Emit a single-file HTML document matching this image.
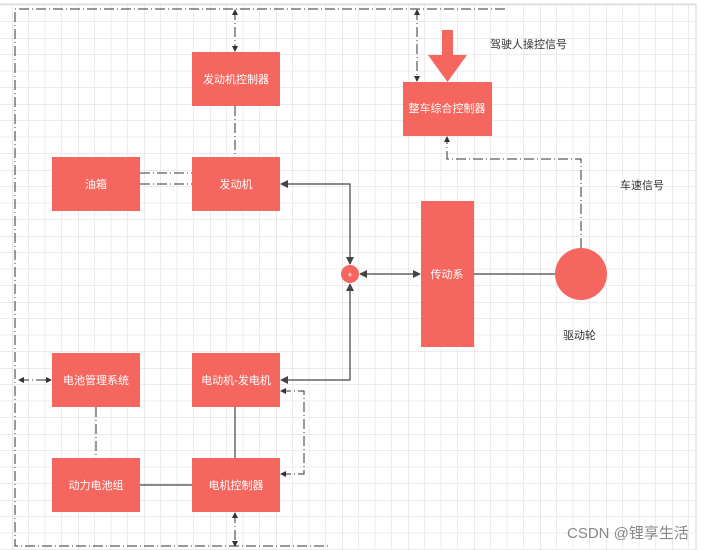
<!DOCTYPE html>
<html><head><meta charset="utf-8"><style>
body{margin:0;background:#fff}
svg{display:block}
text{font-family:"Liberation Sans","Noto Sans CJK SC",sans-serif;font-size:11px}
.w{fill:#fff;text-anchor:middle;dominant-baseline:central}
.k{fill:#333}
</style></head><body>
<svg width="723" height="550" xmlns="http://www.w3.org/2000/svg">
<defs>
<pattern id="g" x="12" y="38" width="66" height="66" patternUnits="userSpaceOnUse">
<path d="M16.5 0V66M33 0V66M49.5 0V66M0 16.5H66M0 33H66M0 49.5H66" stroke="#ececec" stroke-width="1" fill="none"/>
<path d="M0 0V66M0 0H66" stroke="#d6d6d6" stroke-width="1" fill="none"/>
</pattern>
<marker id="a" markerWidth="8" markerHeight="8" refX="7" refY="4" orient="auto-start-reverse" markerUnits="userSpaceOnUse"><path d="M0 0L8 4L0 8Z" fill="#444"/></marker>
<marker id="s" markerWidth="6" markerHeight="6" refX="5" refY="3" orient="auto-start-reverse" markerUnits="userSpaceOnUse"><path d="M0 0L6 3L0 6Z" fill="#333"/></marker>
</defs>
<rect x="0" y="4" width="696" height="546" fill="url(#g)"/>
<line x1="696" y1="4" x2="696" y2="550" stroke="#d6d6d6"/>
<line x1="0" y1="4" x2="696" y2="4" stroke="#d6d6d6"/>
<g stroke="#333" stroke-width="1" fill="none" stroke-dasharray="10,3,1,3">
<path d="M505 9H15V546H330"/>
<path d="M235 10V51" marker-start="url(#s)" marker-end="url(#s)"/>
<path d="M417 10V81" marker-start="url(#s)" marker-end="url(#s)"/>
<path d="M235 513V546" marker-start="url(#s)" marker-end="url(#s)"/>
<path d="M235 106V157"/>
<path d="M140 173H192M140 184H192"/>
<path d="M581 248V159H447V137" marker-end="url(#s)"/>
<path d="M281 391H304V474H281" marker-start="url(#s)" marker-end="url(#s)"/>
<path d="M19 380H51" marker-start="url(#s)" marker-end="url(#s)"/>
<path d="M96 407V458"/>
</g>
<g stroke="#444" stroke-width="1.2" fill="none">
<path d="M281 184H350V264" marker-start="url(#a)" marker-end="url(#a)"/>
<path d="M281 380H350V284" marker-start="url(#a)" marker-end="url(#a)"/>
<path d="M360 274H420" marker-start="url(#a)" marker-end="url(#a)"/>
<path d="M474 274H555"/>
<path d="M235 407V458"/>
<path d="M140 485H192"/>
</g>
<g fill="#f4665e">
<rect x="192" y="52" width="88" height="54"/>
<rect x="52" y="157" width="88" height="54"/>
<rect x="192" y="157" width="88" height="54"/>
<rect x="52" y="353" width="88" height="54"/>
<rect x="192" y="353" width="88" height="54"/>
<rect x="52" y="458" width="88" height="54"/>
<rect x="192" y="458" width="88" height="54"/>
<rect x="403" y="82" width="89" height="54"/>
<rect x="421" y="201" width="53" height="146"/>
<circle cx="581" cy="274" r="26"/>
<circle cx="350" cy="274" r="9"/>
<path d="M442 30H453V55H467L447.5 82L428 55H442Z"/>
</g>
<text x="350" y="275" class="w" style="font-size:9px">+</text>
<text x="236" y="80" class="w">发动机控制器</text>
<text x="96" y="185" class="w">油箱</text>
<text x="236" y="185" class="w">发动机</text>
<text x="96" y="381" class="w">电池管理系统</text>
<text x="236" y="381" class="w">电动机-发电机</text>
<text x="96" y="486" class="w">动力电池组</text>
<text x="236" y="486" class="w">电机控制器</text>
<text x="447" y="109" class="w">整车综合控制器</text>
<text x="447" y="275" class="w">传动系</text>
<text x="490" y="48" class="k">驾驶人操控信号</text>
<text x="620" y="189" class="k">车速信号</text>
<text x="563" y="339" class="k">驱动轮</text>
<text x="567" y="538" style="font-size:15px;fill:#888">CSDN @锂享生活</text>
</svg>
</body></html>
